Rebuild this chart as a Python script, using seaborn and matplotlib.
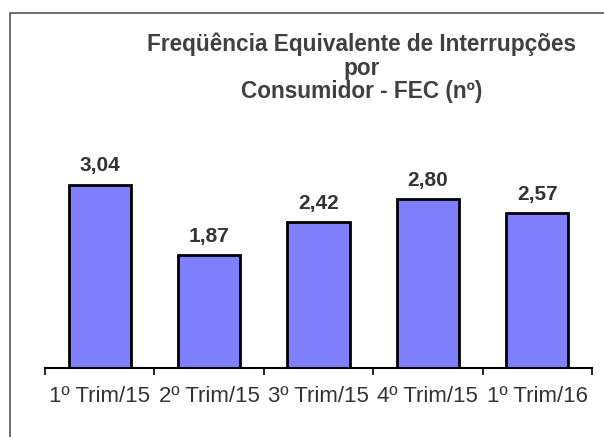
import numpy as np
import pandas as pd
import seaborn as sns
import matplotlib.pyplot as plt
from matplotlib.patches import Rectangle

periodos = ["1º Trim/15", "2º Trim/15", "3º Trim/15", "4º Trim/15", "1º Trim/16"]
fec = [3.04, 1.87, 2.42, 2.80, 2.57]
rotulos = ["3,04", "1,87", "2,42", "2,80", "2,57"]

df = pd.DataFrame({"periodo": periodos, "fec": fec})

sns.set_style("white")
plt.rcParams["font.family"] = ["Liberation Sans", "DejaVu Sans"]

fig = plt.figure(figsize=(6.04, 4.37), dpi=100)
ax = fig.add_axes([45 / 604, 69 / 437, 547 / 604, 3.5 * 60.2 / 437])

sns.barplot(data=df, x="periodo", y="fec", color="#8080ff", saturation=1,
            width=0.57, edgecolor="black", linewidth=2, ax=ax)

ax.set_xlim(-0.5, len(periodos) - 0.5)
ax.set_ylim(0, 3.5)
for s in ["top", "right", "left"]:
    ax.spines[s].set_visible(False)
ax.spines["bottom"].set_color("black")
ax.spines["bottom"].set_linewidth(1.5)
ax.set_yticks([])
ax.set_xlabel("")
ax.set_ylabel("")
ax.set_xticks(np.arange(len(periodos) + 1) - 0.5, minor=True)
ax.tick_params(axis="x", which="minor", bottom=True, length=5, width=1.2,
               color="black", direction="out")
ax.tick_params(axis="x", which="major", length=0, pad=13, labelsize=16, labelcolor="#333333")

for i, (v, r) in enumerate(zip(fec, rotulos)):
    ax.text(i, v + 19 / 60.2, r, ha="center", va="center", fontsize=15,
            fontweight="bold", color="#333333")

fig.text(362 / 604, 1 - 68 / 437,
         "Freqüência Equivalente de Interrupções\npor\nConsumidor - FEC (nº)",
         ha="center", va="center", fontsize=16.3, fontweight="bold",
         color="#404040", linespacing=1.02)

# moldura
fig.patches.append(Rectangle((9.5 / 604, -0.1), 1.2, 1 - 13 / 437 + 0.1,
                             transform=fig.transFigure, fill=False,
                             edgecolor="#555555", linewidth=1.2))

fig.savefig("out.png", dpi=100)
